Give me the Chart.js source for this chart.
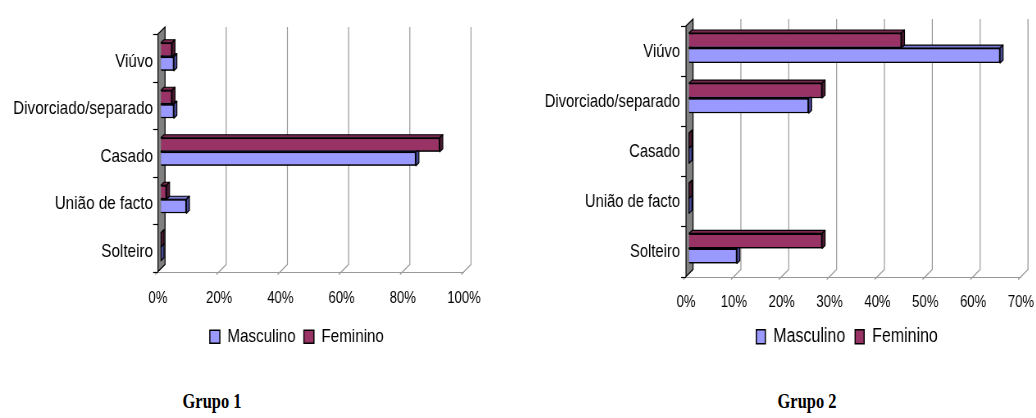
<!DOCTYPE html>
<html><head><meta charset="utf-8">
<script src="https://cdn.jsdelivr.net/npm/chart.js@4.4.0/dist/chart.umd.min.js"></script>
<style>
html,body{margin:0;padding:0;background:#fff;width:1036px;height:418px;overflow:hidden;position:relative}
canvas{position:absolute;top:0;transform:scaleX(0.82);transform-origin:0 0}
#c1{left:0}
#c2{left:540px}
.title{position:absolute;top:389px;width:200px;text-align:center;font:bold 20px 'Liberation Serif','Times New Roman',serif;color:#000;line-height:24px;transform:scaleX(0.82);transform-origin:50% 0}
</style></head>
<body>
<canvas id="c1" width="724" height="370"></canvas>
<canvas id="c2" width="749" height="370"></canvas>
<div class="title" style="left:112px">Grupo 1</div>
<div class="title" style="left:707px">Grupo 2</div>
<script>
// ---- data (categories listed top to bottom) ----
const categories = ['Viúvo', 'Divorciado/separado', 'Casado', 'União de facto', 'Solteiro'];
const seriesNames = ['Masculino', 'Feminino'];
const g1Masculino = [4.2, 4.2, 83.3, 8.3, 0];
const g1Feminino  = [3.6, 3.6, 91.1, 1.8, 0];
const g2Masculino = [65, 25, 0, 0, 10];
const g2Feminino  = [44.4, 27.8, 0, 0, 27.8];
const g1TickMax = 100, g1TickStep = 20;
const g2TickMax = 70,  g2TickStep = 10;

const SX = 0.82; // horizontal compression applied by CSS
const FONT = "'Liberation Sans', Arial, sans-serif";
Chart.defaults.color = '#000';

const COLORS = {
  Masculino: {front: '#9999FF', top: '#7777d0', side: '#4a4a9a'},
  Feminino:  {front: '#993366', top: '#7a2850', side: '#4d1933'}
};

const depth3d = {
  id: 'depth3d',
  beforeDatasetsDraw(chart, args, o) {
    const ctx = chart.ctx, xs = chart.scales.x, ys = chart.scales.y, a = chart.chartArea;
    const fx = o.fx, fy = o.fy, Dx = o.Dx, Dy = o.Dy;
    const fTop = a.top + fy, fBot = a.bottom + fy;
    ctx.save();
    ctx.strokeStyle = '#999999'; ctx.lineWidth = 1.2;
    xs.ticks.forEach(t => {
      const px = xs.getPixelForValue(t.value) + fx;
      ctx.beginPath();
      ctx.moveTo(px + Dx, fTop - Dy);
      ctx.lineTo(px + Dx, fBot - Dy);
      ctx.lineTo(px - 3.5, fBot + 3);
      ctx.stroke();
    });
    ctx.beginPath();
    ctx.moveTo(xs.getPixelForValue(xs.min) + fx, Math.round(fBot) + 0.5);
    ctx.lineTo(xs.getPixelForValue(xs.max) + fx, Math.round(fBot) + 0.5);
    ctx.stroke();
    const x0 = xs.getPixelForValue(0) + fx;
    ctx.fillStyle = '#808080'; ctx.strokeStyle = '#000'; ctx.lineWidth = 1.2;
    ctx.beginPath();
    ctx.moveTo(x0, fTop);
    ctx.lineTo(x0 + Dx, fTop - Dy);
    ctx.lineTo(x0 + Dx, fBot - Dy);
    ctx.lineTo(x0, fBot);
    ctx.closePath(); ctx.fill(); ctx.stroke();
    const n = ys.ticks.length;
    for (let i = 0; i <= n; i++) {
      const y = Math.round(fTop + (fBot - fTop) * i / n) + 0.5;
      ctx.beginPath(); ctx.moveTo(x0 - 6, y); ctx.lineTo(x0, y); ctx.stroke();
    }
    ctx.restore();
  },
  afterDatasetsDraw(chart, args, o) {
    const ctx = chart.ctx, dx = o.dx, dy = o.dy;
    ctx.save();
    ctx.strokeStyle = '#000'; ctx.lineWidth = 1.2; ctx.lineJoin = 'round';
    for (let di = chart.data.datasets.length - 1; di >= 0; di--) {
      if (!chart.isDatasetVisible(di)) continue;
      const ds = chart.data.datasets[di];
      const col = COLORS[ds.label];
      chart.getDatasetMeta(di).data.forEach(bar => {
        const p = bar.getProps(['x', 'y', 'base', 'height'], true);
        const l = Math.min(p.base, p.x), r = Math.max(p.base, p.x);
        const t = p.y - p.height / 2, b = p.y + p.height / 2;
        ctx.fillStyle = col.top;
        ctx.beginPath();
        ctx.moveTo(l, t); ctx.lineTo(l + dx, t - dy); ctx.lineTo(r + dx, t - dy); ctx.lineTo(r, t);
        ctx.closePath(); ctx.fill(); ctx.stroke();
        ctx.fillStyle = col.side;
        ctx.beginPath();
        ctx.moveTo(r, t); ctx.lineTo(r + dx, t - dy); ctx.lineTo(r + dx, b - dy); ctx.lineTo(r, b);
        ctx.closePath(); ctx.fill(); ctx.stroke();
        bar.draw(ctx, chart.chartArea);
      });
    }
    ctx.restore();
  }
};

function makeChart(id, masc, fem, cfg) {
  const mk = (name, data) => ({
    label: name, data: data,
    backgroundColor: COLORS[name].front, borderColor: '#000', borderWidth: 1.5,
    barPercentage: 1, categoryPercentage: cfg.catPct
  });
  return new Chart(document.getElementById(id), {
    type: 'bar',
    data: { labels: categories, datasets: [mk(seriesNames[1], fem), mk(seriesNames[0], masc)] },
    options: {
      indexAxis: 'y', responsive: false, animation: false,
      layout: { padding: { left: 0, top: cfg.top, right: 0, bottom: cfg.bottom } },
      scales: {
        x: {
          type: 'linear', min: 0, max: cfg.max,
          ticks: { stepSize: cfg.step, callback: v => v + '%', font: { family: FONT, size: 16 }, color: '#000',
                   padding: cfg.xPad, labelOffset: cfg.fx, maxRotation: 0, autoSkip: false },
          grid: { display: false, drawTicks: false }, border: { display: false },
          afterFit: s => { s.height = cfg.xH; }
        },
        y: {
          type: 'category',
          ticks: { font: { family: FONT, size: cfg.catFont }, color: '#000', padding: cfg.yPad, labelOffset: cfg.yLabOff, autoSkip: false },
          grid: { display: false, drawTicks: false }, border: { display: false },
          afterFit: s => { s.width = cfg.yW; }
        },
        spacer: {
          type: 'linear', axis: 'y', position: 'right', display: true,
          ticks: { display: false }, grid: { display: false, drawTicks: false }, border: { display: false },
          afterFit: s => { s.width = cfg.right; }
        }
      },
      plugins: {
        legend: {
          position: 'bottom', reverse: true,
          labels: { font: { family: FONT, size: cfg.legFont }, color: '#000', boxWidth: cfg.boxW, boxHeight: cfg.boxH, padding: cfg.legPad }
        },
        tooltip: { enabled: false },
        depth3d: { fx: cfg.fx, fy: cfg.fy, Dx: 7 / SX, Dy: 7, dx: 3 / SX, dy: 3 }
      }
    },
    plugins: [depth3d]
  });
}

makeChart('c1', g1Masculino, g1Feminino, {
  catPct: 0.59, top: 33, right: 724 - 467 / SX, bottom: 14, max: g1TickMax, step: g1TickStep,
  xPad: 18, xH: 47, fx: -3 / SX, fy: 1, yPad: 8 / SX, yW: 161 / SX, yLabOff: 5, catFont: 18.6,
  legFont: 18.5, boxW: 10 / SX, boxH: 13, legPad: 10
});
makeChart('c2', g2Masculino, g2Feminino, {
  catPct: 0.6, top: 23, right: 749 - 484 / SX, bottom: 13.5, max: g2TickMax, step: g2TickStep,
  xPad: 19, xH: 41.5, fx: -3 / SX, fy: 3, yPad: 9 / SX, yW: 149 / SX, yLabOff: 4, catFont: 18,
  legFont: 19.5, boxW: 9 / SX, boxH: 14, legPad: 12
});
</script>
</body></html>
